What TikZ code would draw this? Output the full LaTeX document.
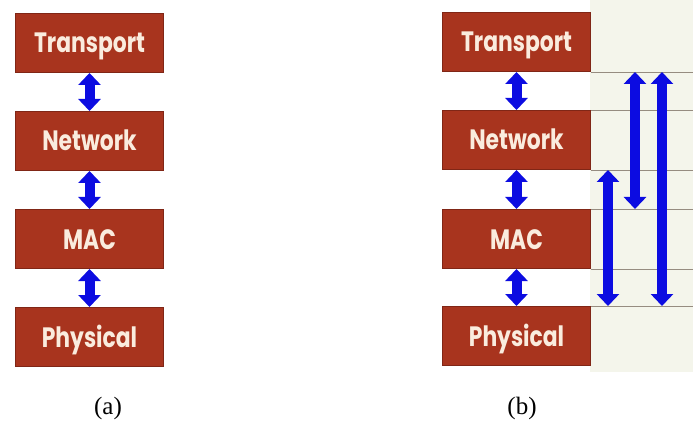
\documentclass[tikz,border=0pt]{standalone}
\usepackage{fontspec}
\usepackage{graphicx}
\setmainfont{Liberation Serif}
\newfontfamily\layerfont{Poppins}
\usetikzlibrary{arrows.meta}

\definecolor{layerfill}{RGB}{168,52,30}
\definecolor{layeredge}{RGB}{128,38,22}
\definecolor{layertext}{RGB}{250,236,222}
\definecolor{linkblue}{RGB}{12,12,225}
\definecolor{rulegray}{RGB}{150,140,128}
\definecolor{slidebg}{RGB}{244,245,235}

\newcommand{\layername}[1]{\scalebox{0.78}[1]{#1}}

\begin{document}
\begin{tikzpicture}[x=1pt,y=-1pt,
  layer/.style={draw=layeredge, line width=1pt, fill=layerfill,
    minimum width=148pt, minimum height=59pt, inner sep=0pt,
    text height=20pt, text depth=0pt, text=layertext,
    font=\layerfont\bfseries\fontsize{28}{28}\selectfont, anchor=north west},
  link/.style={draw=linkblue, line width=10pt,
    {Triangle[width=22pt,length=12pt]}-{Triangle[width=22pt,length=12pt]}},
  rule/.style={draw=rulegray, line width=0.8pt},
  caption/.style={font=\fontsize{25}{25}\selectfont, inner sep=0pt}]

\useasboundingbox (0,0) rectangle (693,422);

% light slide background to the right of the stack in (b)
\fill[slidebg] (590,0) rectangle (693,372);

% ---------- stack (a) ----------
\node[layer] (ta) at (15,13)  {\layername{Transport}};
\node[layer] (na) at (15,111) {\layername{Network}};
\node[layer] (ma) at (15,209) {\layername{MAC}};
\node[layer] (pa) at (15,307) {\layername{Physical}};

\draw[link] (ta.south) -- (na.north);
\draw[link] (na.south) -- (ma.north);
\draw[link] (ma.south) -- (pa.north);

\node[caption] (capa) at (108,408) {(a)};

% ---------- stack (b) ----------
\node[layer] (tb) at (442,12)  {\layername{Transport}};
\node[layer] (nb) at (442,110) {\layername{Network}};
\node[layer] (mb) at (442,209) {\layername{MAC}};
\node[layer] (pb) at (442,306) {\layername{Physical}};

\coordinate (edge) at (693,0);
\coordinate (xa) at (635,0);
\coordinate (xb) at (662,0);
\coordinate (xc) at (608,0);

% layer boundaries extended to the right
\draw[rule] (tb.south east) -- (tb.south east -| edge);
\draw[rule] (nb.north east) -- (nb.north east -| edge);
\draw[rule] (nb.south east) -- (nb.south east -| edge);
\draw[rule] (mb.north east) -- (mb.north east -| edge);
\draw[rule] (mb.south east) -- (mb.south east -| edge);
\draw[rule] (pb.north east) -- (pb.north east -| edge);

\draw[link] (tb.south) -- (nb.north);
\draw[link] (nb.south) -- (mb.north);
\draw[link] (mb.south) -- (pb.north);

% cross-layer interactions
\draw[link] (tb.south east -| xa) -- (mb.north east -| xa);
\draw[link] (tb.south east -| xb) -- (pb.north east -| xb);
\draw[link] (nb.south east -| xc) -- (pb.north east -| xc);

\node[caption] (capb) at (522,408) {(b)};
\end{tikzpicture}
\end{document}
